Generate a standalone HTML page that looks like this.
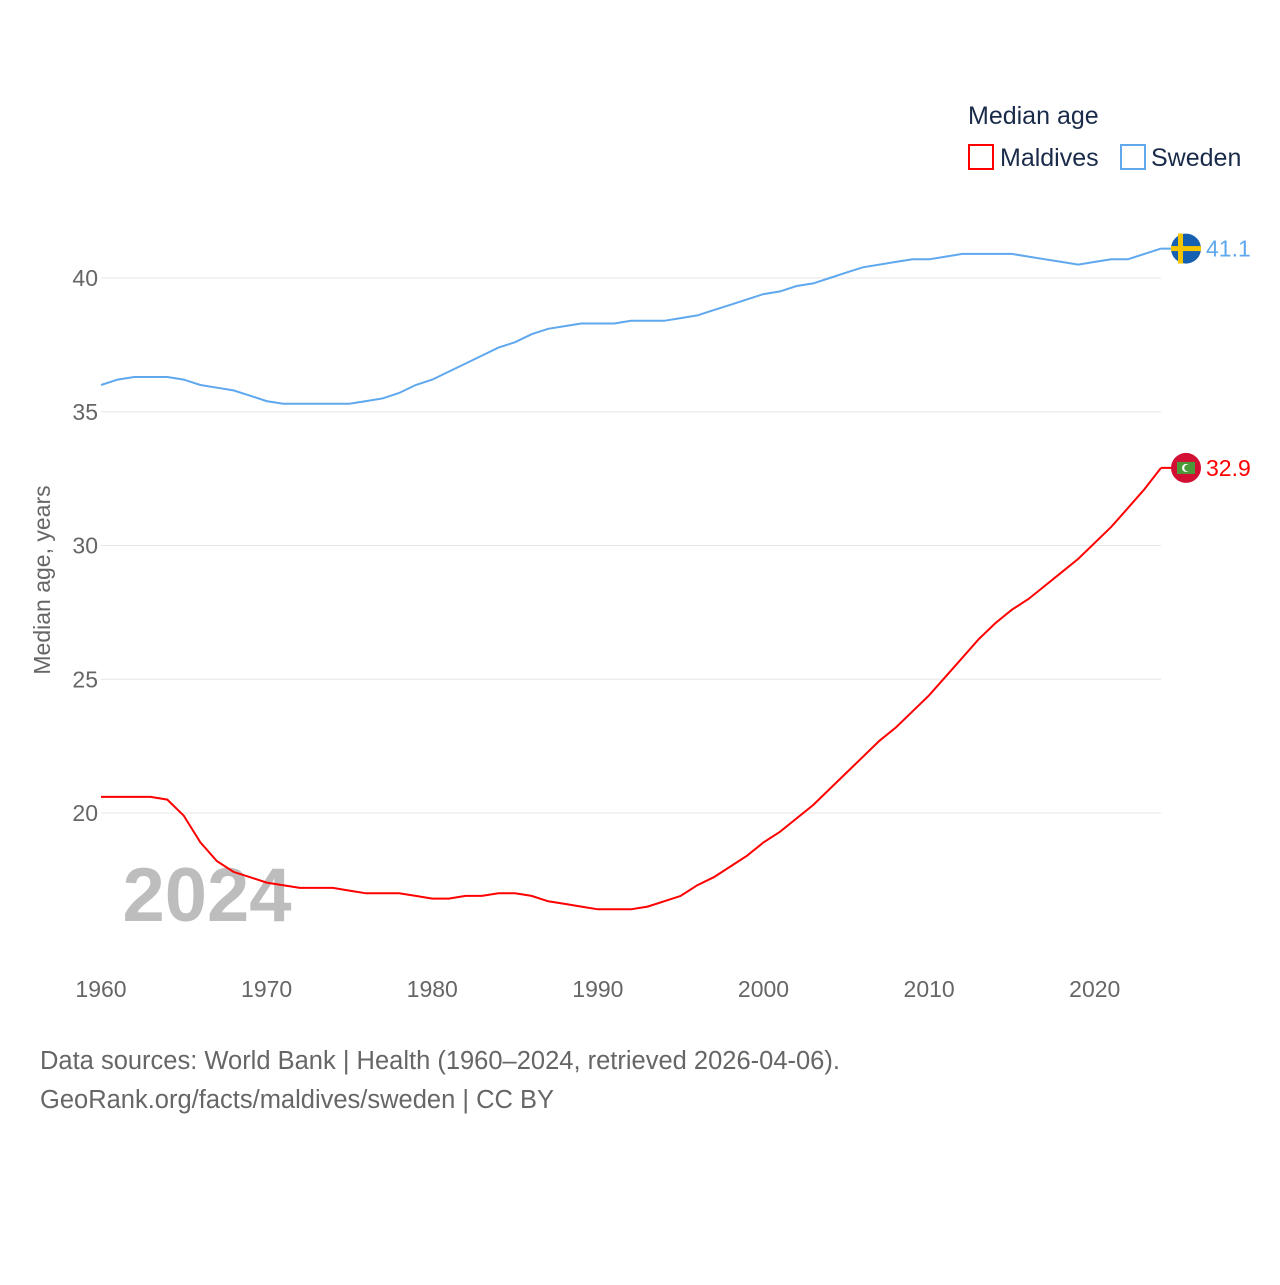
<!DOCTYPE html>
<html><head><meta charset="utf-8"><style>
body{margin:0;background:#fff;font-family:"Liberation Sans",sans-serif}
svg text{font-family:"Liberation Sans",sans-serif}
</style></head><body>
<svg width="1280" height="1280" viewBox="0 0 1280 1280">
<g id="grid"></g>
<g id="yticks"></g>
<g id="xticks"></g>
<text x="207" y="921" font-size="76" font-weight="bold" fill="#bdbdbd" text-anchor="middle">2024</text>
<text transform="translate(50,580) rotate(-90)" font-size="23" fill="#666" text-anchor="middle">Median age, years</text>
<g id="series"></g>
<g>
<text x="968" y="124" font-size="25" fill="#1a2b4a">Median age</text>
<g><rect x="969" y="145" width="24" height="24" fill="none" stroke="#f00" stroke-width="2"/><text x="1000" y="166" font-size="25" fill="#1a2b4a">Maldives</text></g>
<g><rect x="1121" y="145" width="24" height="24" fill="none" stroke="#5fa8ee" stroke-width="2"/><text x="1151" y="166" font-size="25" fill="#1a2b4a">Sweden</text></g>
</g>
<text x="40" y="1069" font-size="25.5" fill="#666">Data sources: World Bank | Health (1960–2024, retrieved 2026-04-06).</text>
<text x="40" y="1108" font-size="25.5" fill="#666">GeoRank.org/facts/maldives/sweden | CC BY</text>
</svg>
<script>
const years=[];for(let y=1960;y<=2024;y++)years.push(y);
const sweden=[36.0,36.2,36.3,36.3,36.3,36.2,36.0,35.9,35.8,35.6,35.4,35.3,35.3,35.3,35.3,35.3,35.4,35.5,35.7,36.0,36.2,36.5,36.8,37.1,37.4,37.6,37.9,38.1,38.2,38.3,38.3,38.3,38.4,38.4,38.4,38.5,38.6,38.8,39.0,39.2,39.4,39.5,39.7,39.8,40.0,40.2,40.4,40.5,40.6,40.7,40.7,40.8,40.9,40.9,40.9,40.9,40.8,40.7,40.6,40.5,40.6,40.7,40.7,40.9,41.1];
const maldives=[20.6,20.6,20.6,20.6,20.5,19.9,18.9,18.2,17.8,17.6,17.4,17.3,17.2,17.2,17.2,17.1,17.0,17.0,17.0,16.9,16.8,16.8,16.9,16.9,17.0,17.0,16.9,16.7,16.6,16.5,16.4,16.4,16.4,16.5,16.7,16.9,17.3,17.6,18.0,18.4,18.9,19.3,19.8,20.3,20.9,21.5,22.1,22.7,23.2,23.8,24.4,25.1,25.8,26.5,27.1,27.6,28.0,28.5,29.0,29.5,30.1,30.7,31.4,32.1,32.9];
const yTicks=[20,25,30,35,40];
const xTicks=[1960,1970,1980,1990,2000,2010,2020];
const X=v=>101+(v-1960)*(1161-101)/64;
const Y=v=>278+(40-v)*26.75;
const NS="http://www.w3.org/2000/svg";
function mk(t,a,p){const e=document.createElementNS(NS,t);for(const k in a)e.setAttribute(k,a[k]);p.appendChild(e);return e;}
const grid=document.getElementById('grid'),yt=document.getElementById('yticks'),xt=document.getElementById('xticks'),ser=document.getElementById('series');
yTicks.forEach(v=>{
const l=mk('line',{x1:101,x2:1161,y1:Y(v),y2:Y(v),stroke:'#e6e6e6','stroke-width':1},grid);


const t=mk('text',{x:98,y:Y(v)+8,'font-size':23,fill:'#666','text-anchor':'end'},yt);t.textContent=v;


});
xTicks.forEach(v=>{
const t=mk('text',{x:X(v),y:997,'font-size':23,fill:'#666','text-anchor':'middle'},xt);t.textContent=v;


});
function line(data,color,name,flag){
const d=data.map((v,i)=>(i?'L':'M')+X(years[i]).toFixed(1)+','+Y(v).toFixed(1)).join('');
const p=mk('path',{d:d,fill:'none',stroke:color,'stroke-width':2},ser);


const last=data[data.length-1],ly=Y(last);
mk('line',{x1:X(2024),x2:1186,y1:ly,y2:ly,stroke:color,'stroke-width':2},ser);
const g=mk('g',{},ser);


flag(g,ly);
const t=mk('text',{x:1206,y:ly+8,'font-size':23,fill:color},ser);t.textContent=last.toFixed(1);


}
line(sweden,'#5fa8ee','sweden',(g,y)=>{
mk('circle',{cx:1186,cy:y,r:15,fill:'#1560b0'},g);
mk('rect',{x:1178,y:y-15,width:5,height:30,fill:'#f5c400'},g);
mk('rect',{x:1171,y:y-2.5,width:30,height:5,fill:'#f5c400'},g);
});
line(maldives,'#f00','maldives',(g,y)=>{
mk('circle',{cx:1186,cy:y,r:15,fill:'#d21034'},g);
mk('rect',{x:1177,y:y-6,width:18,height:12,fill:'#4a9a3a'},g);
mk('circle',{cx:1186,cy:y,r:4,fill:'#fff'},g);
mk('circle',{cx:1187.5,cy:y,r:3.3,fill:'#4a9a3a'},g);
});
</script>
</body></html>
